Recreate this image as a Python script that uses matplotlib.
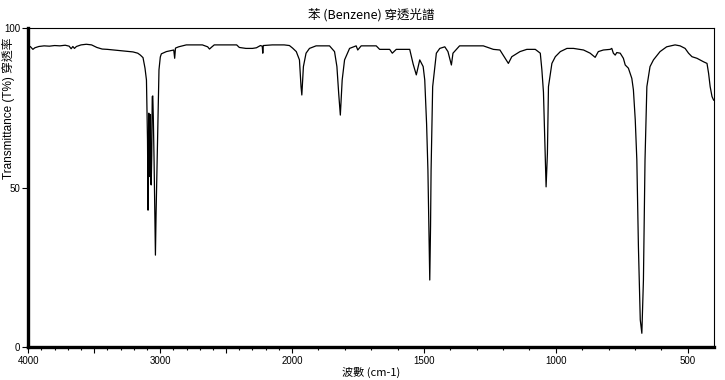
import numpy as np
import matplotlib
matplotlib.use('Agg')
import matplotlib.pyplot as plt
from matplotlib.ticker import FixedLocator

# IR spectrum of benzene
wavenumber = [
    4000, 3985, 3965, 3950, 3920, 3880, 3840, 3800, 3760, 3720, 3690, 3675, 3662, 3650, 3635,
    3600, 3560, 3520, 3480, 3440, 3400, 3350, 3300, 3250, 3206, 3170, 3150, 3130, 3115, 3104,
    3096, 3092, 3089, 3086, 3083, 3080, 3077, 3074, 3071, 3068, 3064, 3060, 3056, 3052, 3046,
    3040, 3036, 3031, 3024, 3016, 3009, 2999, 2991, 2970, 2953, 2920, 2897, 2890, 2884, 2860,
    2802, 2750, 2680, 2640, 2626, 2610, 2590, 2500, 2420, 2400, 2350, 2300, 2270, 2240, 2226,
    2222, 2218, 2150, 2060, 2020, 1998, 1984, 1972, 1966, 1963, 1957, 1947, 1934, 1909, 1858,
    1839, 1830, 1823, 1817, 1810, 1801, 1782, 1757, 1751, 1738, 1681, 1668, 1630, 1620, 1605,
    1554, 1541, 1529, 1516, 1503, 1497, 1490, 1485, 1481, 1478, 1475, 1473, 1467, 1453, 1440,
    1421, 1409, 1396, 1390, 1365, 1275, 1237, 1212, 1180, 1167, 1136, 1110, 1078, 1059, 1053,
    1047, 1040, 1037, 1032, 1028, 1015, 1002, 983, 958, 933, 895, 870, 851, 839, 820,
    794, 788, 782, 775, 769, 756, 744, 737, 725, 712, 706, 699, 693, 687, 680,
    674, 668, 662, 655, 643, 630, 605, 580, 548, 529, 510, 497, 484, 465, 440,
    427, 421, 415, 408, 402,
]
transmittance = [
    94.0, 94.3, 93.4, 93.9, 94.3, 94.5, 94.4, 94.6, 94.5, 94.7, 94.4, 93.6, 94.3, 93.7, 94.3,
    94.8, 95.0, 94.8, 94.0, 93.5, 93.4, 93.2, 93.0, 92.8, 92.6, 92.2, 91.6, 90.8, 87.5, 83.8,
    65.0, 43.0, 62.0, 73.4, 54.0, 72.0, 53.5, 73.0, 52.0, 50.9, 60.0, 78.6, 78.8, 72.0, 58.0,
    40.0, 28.9, 42.0, 56.6, 75.0, 87.0, 91.0, 92.0, 92.4, 92.7, 93.0, 93.2, 90.6, 93.8, 94.2,
    94.8, 94.8, 94.8, 94.2, 93.5, 94.1, 94.8, 94.8, 94.8, 94.0, 93.7, 93.7, 93.9, 94.6, 94.4,
    92.2, 94.6, 94.8, 94.8, 94.6, 93.8, 92.7, 90.1, 81.7, 79.1, 88.0, 92.2, 93.7, 94.5, 94.5,
    92.7, 88.0, 79.3, 72.8, 83.8, 90.1, 93.7, 94.5, 93.2, 94.5, 94.5, 93.4, 93.4, 92.2, 93.4,
    93.4, 88.8, 85.4, 90.1, 88.0, 83.8, 70.0, 55.6, 35.0, 21.1, 38.0, 55.4, 81.7, 92.2, 93.7,
    94.2, 92.7, 88.5, 92.2, 94.5, 94.5, 93.4, 93.2, 89.0, 91.1, 92.7, 93.4, 93.4, 92.2, 87.0,
    80.0, 59.1, 50.3, 60.8, 81.7, 89.0, 91.1, 92.7, 93.7, 93.7, 93.2, 92.2, 90.9, 92.7, 93.2,
    93.4, 93.7, 92.2, 91.6, 92.4, 92.2, 90.6, 88.5, 87.5, 84.3, 80.7, 71.3, 58.7, 31.5, 8.6,
    4.4, 21.1, 58.7, 81.7, 88.0, 90.1, 92.7, 94.2, 94.8, 94.5, 93.7, 92.2, 91.1, 90.6, 89.5,
    89.0, 85.9, 81.7, 78.6, 77.5,
]
major_ticks = [4000, 3500, 3000, 2500, 2000, 1500, 1000, 500]
major_labels = ['4000', '', '3000', '', '2000', '1500', '1000', '500']
minor_ticks = list(range(3900, 400, -100))
y_ticks = [0, 50, 100]


# axis is compressed 2x above 2000 cm-1, like the spectrometer printout
def fwd(x):
    x = np.asarray(x, dtype=float)
    return np.where(x <= 2000, x, 2000 + (x - 2000) / 2)


def inv(u):
    u = np.asarray(u, dtype=float)
    return np.where(u <= 2000, u, 2000 + (u - 2000) * 2)


plt.rcParams['font.family'] = ['Liberation Sans', 'Noto Sans CJK TC', 'DejaVu Sans']

fig = plt.figure(figsize=(7.25, 3.8), dpi=100)
ax = fig.add_axes([0.039, 0.086, 0.946, 0.8395])

ax.plot(wavenumber, transmittance, color='black', lw=0.9)

ax.set_xscale('function', functions=(fwd, inv))
ax.set_xlim(4000, 400)
ax.set_ylim(0, 100)

ax.xaxis.set_major_locator(FixedLocator(major_ticks))
ax.set_xticklabels(major_labels)
ax.xaxis.set_minor_locator(FixedLocator(minor_ticks))
ax.set_yticks(y_ticks)
ax.tick_params(axis='both', which='major', labelsize=7, length=4, width=0.8, pad=2)
ax.tick_params(axis='x', which='minor', length=2, width=0.8)

for side in ['left', 'bottom']:
    ax.spines[side].set_linewidth(2.4)
for side in ['top', 'right']:
    ax.spines[side].set_linewidth(0.8)

ax.set_title('苯 (Benzene) 穿透光譜', fontsize=9, pad=7,
             family=['Noto Sans CJK TC', 'DejaVu Sans'])
ax.set_xlabel('波數 (cm-1)', fontsize=8, labelpad=1,
              family=['Noto Sans CJK TC', 'DejaVu Sans'])
ax.set_ylabel('Transmittance (T%) 穿透率', fontsize=8.5, loc='top',
              family=['Liberation Sans', 'Noto Sans CJK TC'])
ax.yaxis.set_label_coords(-0.019, 0.97)

fig.savefig('out.png', dpi=100)
